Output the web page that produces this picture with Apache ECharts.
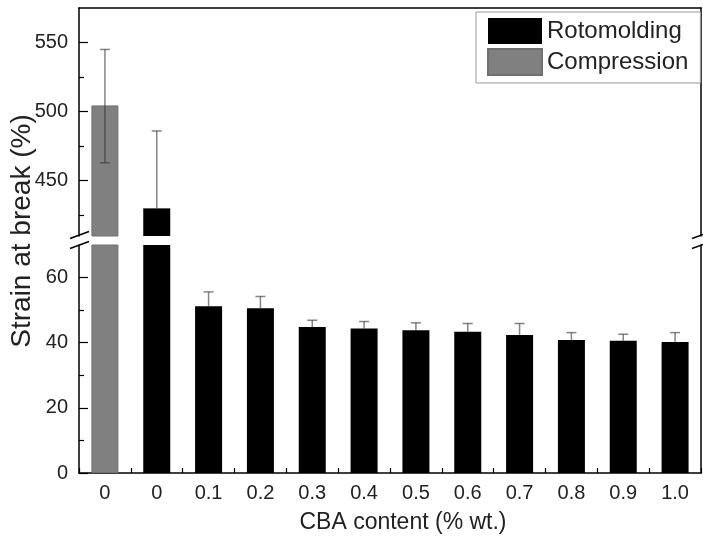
<!DOCTYPE html>
<html>
  <head>
    <meta charset="utf-8" />
    <title>Strain at break</title>
    <script src="https://cdn.jsdelivr.net/npm/echarts@6.0.0/dist/echarts.min.js"></script>
  </head>
  <body style="margin:0">
    <div id="main" style="width:703px;height:536px;"></div>
    <script type="text/javascript">
// data
const categories = ['0', '0', '0.1', '0.2', '0.3', '0.4', '0.5', '0.6', '0.7', '0.8', '0.9', '1.0'];
const compression = [504.5, '-', '-', '-', '-', '-', '-', '-', '-', '-', '-', '-'];
const rotomolding = ['-', 430, 51.2, 50.6, 44.8, 44.4, 43.8, 43.4, 42.4, 40.8, 40.6, 40.2];
const errHigh = [545, 486, 55.6, 54.2, 46.9, 46.5, 46.1, 45.9, 45.9, 43.1, 42.6, 43.1];
const errLow = [463, null, null, null, null, null, null, null, null, null, null, null];

const upperRange = [410, 575];
const lowerRange = [0, 70];
const upperTicks = [450, 500, 550];
const upperMinor = [425, 475, 525];
const lowerTicks = [0, 20, 40, 60];
const lowerMinor = [10, 30, 50];

// layout
const L = 79, R = 2;
const upTop = 8, upH = 228;
const lowTop = 245, lowH = 228;
const font = 'Liberation Sans, Arial, sans-serif';

var chartDom = document.getElementById('main');
var myChart = echarts.init(chartDom);

function onlyIn(arr, range) {
  return arr.map(function (v) {
    return v !== '-' && v >= range[0] ? v : '-';
  });
}

function errData(range) {
  var out = [];
  categories.forEach(function (c, i) {
    var bar = compression[i] !== '-' ? compression[i] : rotomolding[i];
    var lo = errLow[i] != null ? errLow[i] : bar;
    if (errHigh[i] <= range[1] && lo >= range[0]) {
      out.push([i, lo, errHigh[i], errLow[i] != null ? 1 : 0]);
    }
  });
  return out;
}

function renderErr(params, api) {
  var x = api.value(0);
  var top = api.coord([x, api.value(2)]);
  var bot = api.coord([x, api.value(1)]);
  var hw = 5;
  // semi-transparent so it reads lighter over white, darker over the grey bar
  var st = { stroke: '#333', opacity: 0.6, lineWidth: 1.5 };
  var kids = [
    { type: 'line', shape: { x1: top[0], y1: top[1], x2: bot[0], y2: bot[1] }, style: st },
    { type: 'line', shape: { x1: top[0] - hw, y1: top[1], x2: top[0] + hw, y2: top[1] }, style: st }
  ];
  if (api.value(3)) {
    kids.push({ type: 'line', shape: { x1: bot[0] - hw, y1: bot[1], x2: bot[0] + hw, y2: bot[1] }, style: st });
  }
  return { type: 'group', children: kids };
}

const axisLine = { show: true, lineStyle: { color: '#000', width: 1.5 } };
const noLine = { show: false };
const tickStyle = { color: '#000', width: 1.2 };

function tickAxis(grid, range, values, len, labels) {
  return {
    type: 'value', gridIndex: grid, position: 'left', min: range[0], max: range[1],
    splitLine: { show: false }, axisLine: labels ? axisLine : noLine,
    axisTick: { show: true, inside: true, length: len, lineStyle: tickStyle, customValues: values },
    axisLabel: { show: labels, fontSize: 20, color: '#222', margin: 11, customValues: values }
  };
}

function rightBorder(grid, range) {
  return {
    type: 'value', gridIndex: grid, position: 'right', min: range[0], max: range[1],
    splitLine: { show: false }, axisLine: axisLine, axisTick: { show: false }, axisLabel: { show: false }
  };
}

var breakMark = function (cx, cy) {
  var st = { stroke: '#000', lineWidth: 1.5 };
  return [
    { type: 'line', shape: { x1: cx - 9, y1: cy - 1, x2: cx + 10, y2: cy - 8 }, style: st, z: 10 },
    { type: 'line', shape: { x1: cx - 9, y1: cy + 9, x2: cx + 10, y2: cy + 2 }, style: st, z: 10 }
  ];
};
var gapMid = (upTop + upH + lowTop) / 2;

var option = {
  animation: false,
  textStyle: { fontFamily: font },
  grid: [
    { left: L, right: R, top: upTop, height: upH },
    { left: L, right: R, top: lowTop, height: lowH }
  ],
  legend: {
    data: ['Rotomolding', 'Compression'],
    orient: 'vertical',
    left: 476,
    top: 12,
    padding: [6, 12, 7, 11],
    itemWidth: 54,
    itemHeight: 26,
    itemGap: 4,
    icon: 'rect',
    backgroundColor: '#fff',
    borderColor: '#999',
    borderWidth: 1,
    textStyle: { fontSize: 24, color: '#222', fontFamily: font },
    z: 20
  },
  xAxis: [
    {
      type: 'category', gridIndex: 0, position: 'top', data: categories,
      axisLine: axisLine, axisTick: { show: false }, axisLabel: { show: false }
    },
    {
      type: 'category', gridIndex: 1, position: 'bottom', data: categories,
      axisLine: axisLine,
      axisTick: { show: true, inside: true, length: 5, interval: 0, lineStyle: tickStyle },
      axisLabel: { interval: 0, fontSize: 20, color: '#222', margin: 10 },
      name: 'CBA content (% wt.)',
      nameLocation: 'middle',
      nameGap: 38,
      nameTextStyle: { fontSize: 23, color: '#222', padding: [0, 0, 0, 26] }
    },
    {
      type: 'category', gridIndex: 1, position: 'bottom', data: categories,
      axisLine: noLine,
      axisTick: { show: true, inside: true, length: 8, interval: 0, alignWithLabel: true, lineStyle: tickStyle },
      axisLabel: { show: false }
    }
  ],
  yAxis: [
    tickAxis(0, upperRange, upperTicks, 9, true),
    tickAxis(0, upperRange, upperMinor, 5, false),
    rightBorder(0, upperRange),
    tickAxis(1, lowerRange, lowerTicks, 9, true),
    tickAxis(1, lowerRange, lowerMinor, 5, false),
    rightBorder(1, lowerRange)
  ],
  series: [
    {
      name: 'Rotomolding', type: 'bar', xAxisIndex: 0, yAxisIndex: 0,
      data: onlyIn(rotomolding, upperRange), barWidth: 27, barGap: '-100%',
      itemStyle: { color: '#000' }
    },
    {
      name: 'Compression', type: 'bar', xAxisIndex: 0, yAxisIndex: 0,
      data: onlyIn(compression, upperRange), barWidth: 27, barGap: '-100%',
      itemStyle: { color: '#808080', borderColor: '#707070', borderWidth: 1 }
    },
    {
      name: 'Rotomolding', type: 'bar', xAxisIndex: 1, yAxisIndex: 3,
      data: rotomolding, barWidth: 27, barGap: '-100%',
      itemStyle: { color: '#000' }
    },
    {
      name: 'Compression', type: 'bar', xAxisIndex: 1, yAxisIndex: 3,
      data: compression, barWidth: 27, barGap: '-100%',
      itemStyle: { color: '#808080', borderColor: '#707070', borderWidth: 1 }
    },
    {
      type: 'custom', xAxisIndex: 0, yAxisIndex: 0, renderItem: renderErr,
      data: errData(upperRange), z: 5
    },
    {
      type: 'custom', xAxisIndex: 1, yAxisIndex: 3, renderItem: renderErr,
      data: errData(lowerRange), z: 5
    }
  ],
  graphic: [
    {
      type: 'text', x: 22, y: 231, rotation: Math.PI / 2,
      style: {
        text: 'Strain at break (%)', font: '28px ' + font, fill: '#222',
        align: 'center', verticalAlign: 'middle'
      }
    }
  ].concat(breakMark(L, gapMid - 1), breakMark(703 - R, gapMid - 1))
};

myChart.setOption(option);
    </script>
  </body>
</html>
